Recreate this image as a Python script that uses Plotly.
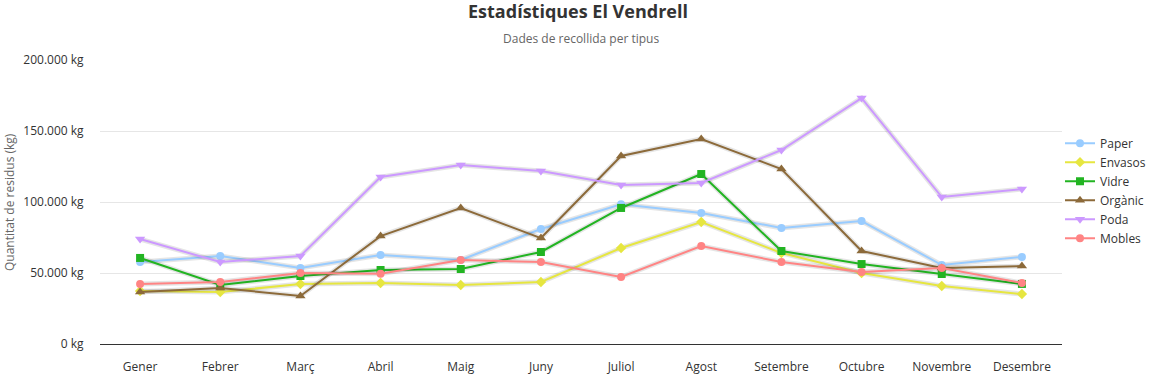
import plotly.graph_objects as go

months = ["Gener", "Febrer", "Març", "Abril", "Maig", "Juny", "Juliol", "Agost",
          "Setembre", "Octubre", "Novembre", "Desembre"]

paper = [57700, 62000, 53500, 62700, 59200, 81000, 98400, 92300, 81700, 86600, 55600, 61300]
envasos = [37300, 36600, 42300, 43000, 41500, 43700, 67600, 85900, 64100, 50000, 40800, 35200]
vidre = [60600, 41500, 47900, 52100, 52800, 64800, 95800, 119700, 65500, 56300, 49300, 42300]
organic = [36600, 39400, 33800, 76000, 95800, 74600, 132400, 144400, 123200, 65500, 53500, 54900]
poda = [73900, 57700, 62000, 117600, 126000, 121800, 112000, 113400, 136600, 173200, 103500, 109100]
mobles = [42300, 43700, 50000, 49500, 59200, 57700, 47200, 69000, 57700, 50700, 53500, 43000]

series = [
    ("Paper", paper, "#99ccff", "circle", 8),
    ("Envasos", envasos, "#e6e640", "diamond", 8),
    ("Vidre", vidre, "#22b422", "square", 8),
    ("Orgànic", organic, "#8c6a3a", "triangle-up", 9),
    ("Poda", poda, "#cc99ff", "triangle-down", 9),
    ("Mobles", mobles, "#ff8484", "circle", 8),
]

W, H = 1156, 378
ML, MR, MT, MB = 100, 94, 60, 34
PW, PH = W - ML - MR, H - MT - MB

fig = go.Figure()

for name, vals, color, sym, size in series:
    fig.add_trace(go.Scatter(
        x=months, y=vals, mode="lines", showlegend=False, hoverinfo="skip",
        line=dict(color="rgba(0,0,0,0.10)", width=5),
    ))
    fig.add_trace(go.Scatter(
        x=months, y=vals, name=name, mode="lines+markers",
        line=dict(color=color, width=2),
        marker=dict(symbol=sym, size=size, color=color),
    ))

fig.update_layout(
    width=W, height=H,
    margin=dict(l=ML, r=MR, t=MT, b=MB, autoexpand=False),
    paper_bgcolor="white", plot_bgcolor="white",
    separators=",.",
    font=dict(family="Open Sans, Noto Sans, sans-serif", size=12, color="#333333"),
    title=dict(text="<b>Estadístiques El Vendrell</b>", x=0.5, xanchor="center",
               y=1 - 12 / H, yanchor="middle", font=dict(size=18, color="#333333")),
    annotations=[
        dict(text="Dades de recollida per tipus", x=0.5, xref="paper",
             xanchor="center", y=1.0 + (MT - 38) / PH, yref="paper", yanchor="middle",
             showarrow=False, font=dict(size=12, color="#666666")),
        dict(text="Quantitat de residus (kg)", x=(9 - ML) / PW, xref="paper",
             xanchor="center", y=0.5, yref="paper", yanchor="middle", textangle=-90,
             showarrow=False, font=dict(size=12, color="#666666")),
    ],
    legend=dict(x=1.0 - 2 / PW, xanchor="left", y=0.54, yanchor="middle",
                font=dict(size=12, color="#333333"), tracegroupgap=0,
                itemwidth=30, bgcolor="rgba(0,0,0,0)"),
    showlegend=True,
    xaxis=dict(showgrid=False, showline=True, linecolor="#333333", linewidth=1,
               ticks="outside", ticklen=12, tickcolor="rgba(0,0,0,0)",
               tickfont=dict(size=12, color="#333333"), automargin=False,
               range=[-0.5, 11.5], fixedrange=True),
    yaxis=dict(range=[0, 200000], dtick=50000, tickformat=",d", ticksuffix=" kg",
               gridcolor="#e6e6e6", zeroline=False, showline=False,
               ticks="outside", ticklen=13, tickcolor="rgba(0,0,0,0)", automargin=False,
               tickfont=dict(size=12, color="#333333")),
)

fig.write_html("out.html", config={"displayModeBar": False},
               post_script="document.body.style.margin='0';")
